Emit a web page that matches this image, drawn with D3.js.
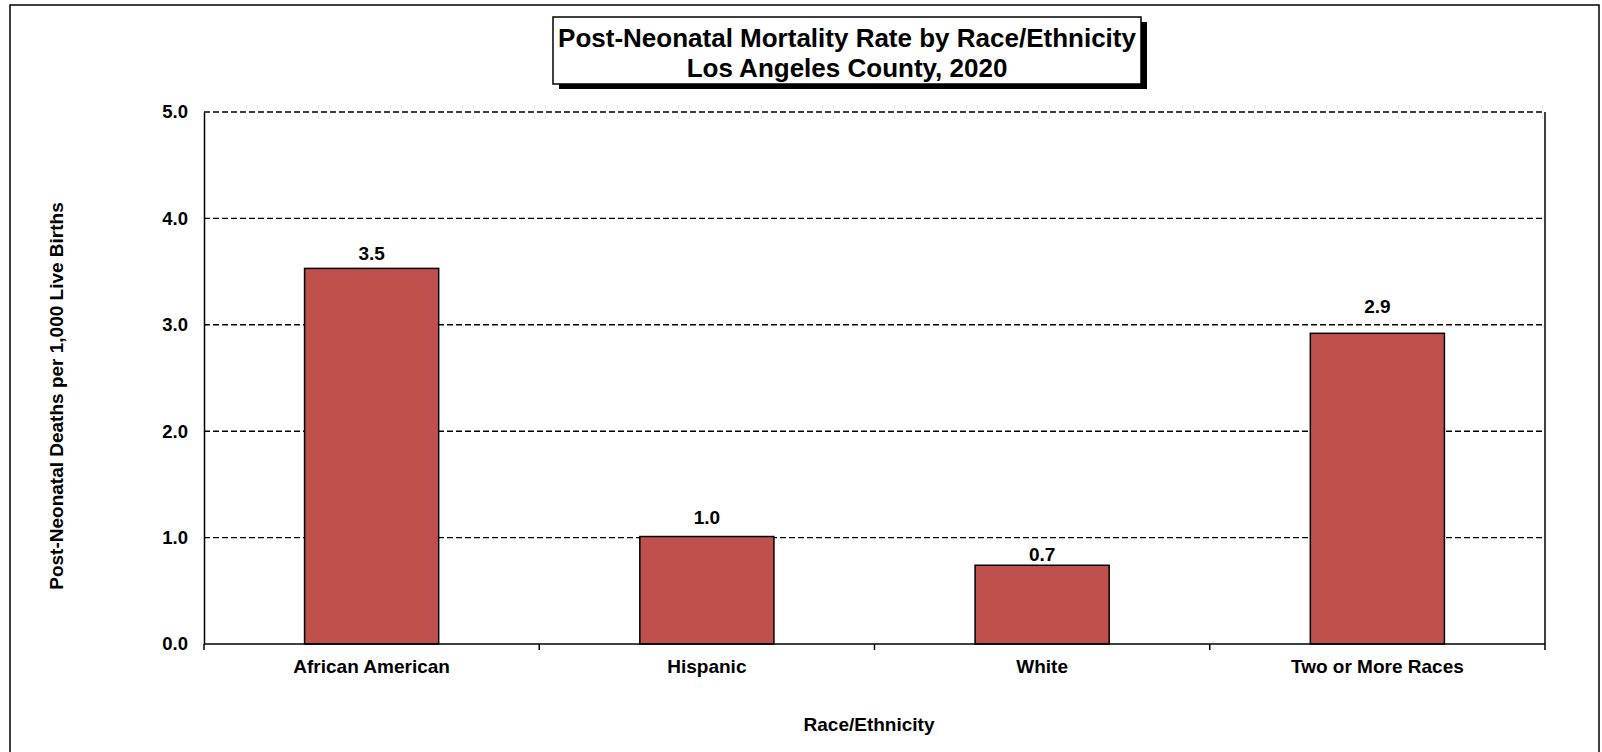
<!DOCTYPE html>
<html>
<head>
<meta charset="utf-8">
<script src="https://cdn.jsdelivr.net/npm/d3@7"></script>
<style>
  body { margin: 0; background: #fff; }
  svg { display: block; font-family: "Liberation Sans", Arial, sans-serif; font-weight: bold; }
</style>
</head>
<body>
<svg id="chart" width="1602" height="752"></svg>
<script>
// chart data
var categories = ['African American', 'Hispanic', 'White', 'Two or More Races'];
var rates = [3.53, 1.01, 0.74, 2.92];
var rateLabels = ['3.5', '1.0', '0.7', '2.9'];
var yTicks = [0, 1, 2, 3, 4, 5];

var svg = d3.select('#chart');

var margin = { top: 112, right: 57, bottom: 108, left: 204 };
var width = 1602 - margin.left - margin.right;
var height = 752 - margin.top - margin.bottom;

// outer frame
svg.append('rect')
    .attr('x', 10).attr('y', 5)
    .attr('width', 1589).attr('height', 760)
    .attr('fill', 'none')
    .attr('stroke', '#000')
    .attr('stroke-width', 1.5);

var g = svg.append('g').attr('transform', 'translate(' + margin.left + ',' + margin.top + ')');

var x = d3.scaleBand().domain(categories).range([0, width]).paddingInner(0.6).paddingOuter(0.3);
var xb = d3.scaleBand().domain(categories).range([0, width]);
var y = d3.scaleLinear().domain([0, 5]).range([height, 0]);

// dashed gridlines
g.selectAll('.grid')
    .data(yTicks.filter(function(d){ return d > 0; }))
    .enter().append('line')
    .attr('x1', 0).attr('x2', width)
    .attr('y1', function(d){ return y(d); })
    .attr('y2', function(d){ return y(d); })
    .attr('stroke', '#000')
    .attr('stroke-width', 1.4)
    .attr('stroke-dasharray', '6,3');

// right border
g.append('line')
    .attr('x1', width).attr('x2', width)
    .attr('y1', 0).attr('y2', height)
    .attr('stroke', '#000').attr('stroke-width', 1.5);

// bars
g.selectAll('.bar')
    .data(rates)
    .enter().append('rect')
    .attr('x', function(d, i){ return x(categories[i]); })
    .attr('y', function(d){ return y(d); })
    .attr('width', x.bandwidth())
    .attr('height', function(d){ return height - y(d); })
    .attr('fill', '#C0504D')
    .attr('stroke', '#000')
    .attr('stroke-width', 1.5);

// value labels (hand-placed in the original, so lift differs per bar)
var labelLift = [8, 13, 4, 20];
g.selectAll('.val')
    .data(rates)
    .enter().append('text')
    .attr('x', function(d, i){ return x(categories[i]) + x.bandwidth() / 2; })
    .attr('y', function(d, i){ return y(d) - labelLift[i]; })
    .attr('text-anchor', 'middle')
    .attr('font-size', 19)
    .text(function(d, i){ return rateLabels[i]; });

// y axis
var yAxis = g.append('g')
    .call(d3.axisLeft(y).tickValues(yTicks).tickFormat(d3.format('.1f')).tickSize(0).tickPadding(16));
yAxis.select('.domain').attr('stroke-width', 1.5);
yAxis.selectAll('text').attr('font-size', 18.5).attr('font-family', '"Liberation Sans", Arial, sans-serif').attr('font-weight', 'bold').attr('fill', '#000');

// x axis with ticks at band edges
var xAxis = g.append('g').attr('transform', 'translate(0,' + height + ')');
xAxis.append('line')
    .attr('x1', 0).attr('x2', width)
    .attr('stroke', '#000').attr('stroke-width', 1.5);
var edges = categories.map(function(c){ return xb(c); }).concat([width]);
xAxis.selectAll('.tick')
    .data(edges)
    .enter().append('line')
    .attr('x1', function(d){ return d; }).attr('x2', function(d){ return d; })
    .attr('y1', 0).attr('y2', 6)
    .attr('stroke', '#000').attr('stroke-width', 1.5);
xAxis.selectAll('.lbl')
    .data(categories)
    .enter().append('text')
    .attr('x', function(d){ return xb(d) + xb.bandwidth() / 2; })
    .attr('y', 29)
    .attr('text-anchor', 'middle')
    .attr('font-size', 19)
    .text(function(d){ return d; });

// axis titles
svg.append('text')
    .attr('x', 869).attr('y', 731)
    .attr('text-anchor', 'middle')
    .attr('font-size', 19)
    .text('Race/Ethnicity');

svg.append('text')
    .attr('transform', 'translate(63,396) rotate(-90)')
    .attr('text-anchor', 'middle')
    .attr('font-size', 19)
    .text('Post-Neonatal Deaths per 1,000 Live Births');

// title box with shadow
svg.append('rect')
    .attr('x', 559).attr('y', 22)
    .attr('width', 588).attr('height', 67)
    .attr('fill', '#000');
svg.append('rect')
    .attr('x', 553).attr('y', 17)
    .attr('width', 588).attr('height', 67)
    .attr('fill', '#fff')
    .attr('stroke', '#000')
    .attr('stroke-width', 1.5);
svg.append('text')
    .attr('x', 847).attr('y', 47)
    .attr('text-anchor', 'middle')
    .attr('font-size', 26)
    .text('Post-Neonatal Mortality Rate by Race/Ethnicity');
svg.append('text')
    .attr('x', 847).attr('y', 77)
    .attr('text-anchor', 'middle')
    .attr('font-size', 26)
    .text('Los Angeles County, 2020');
</script>
</body>
</html>
